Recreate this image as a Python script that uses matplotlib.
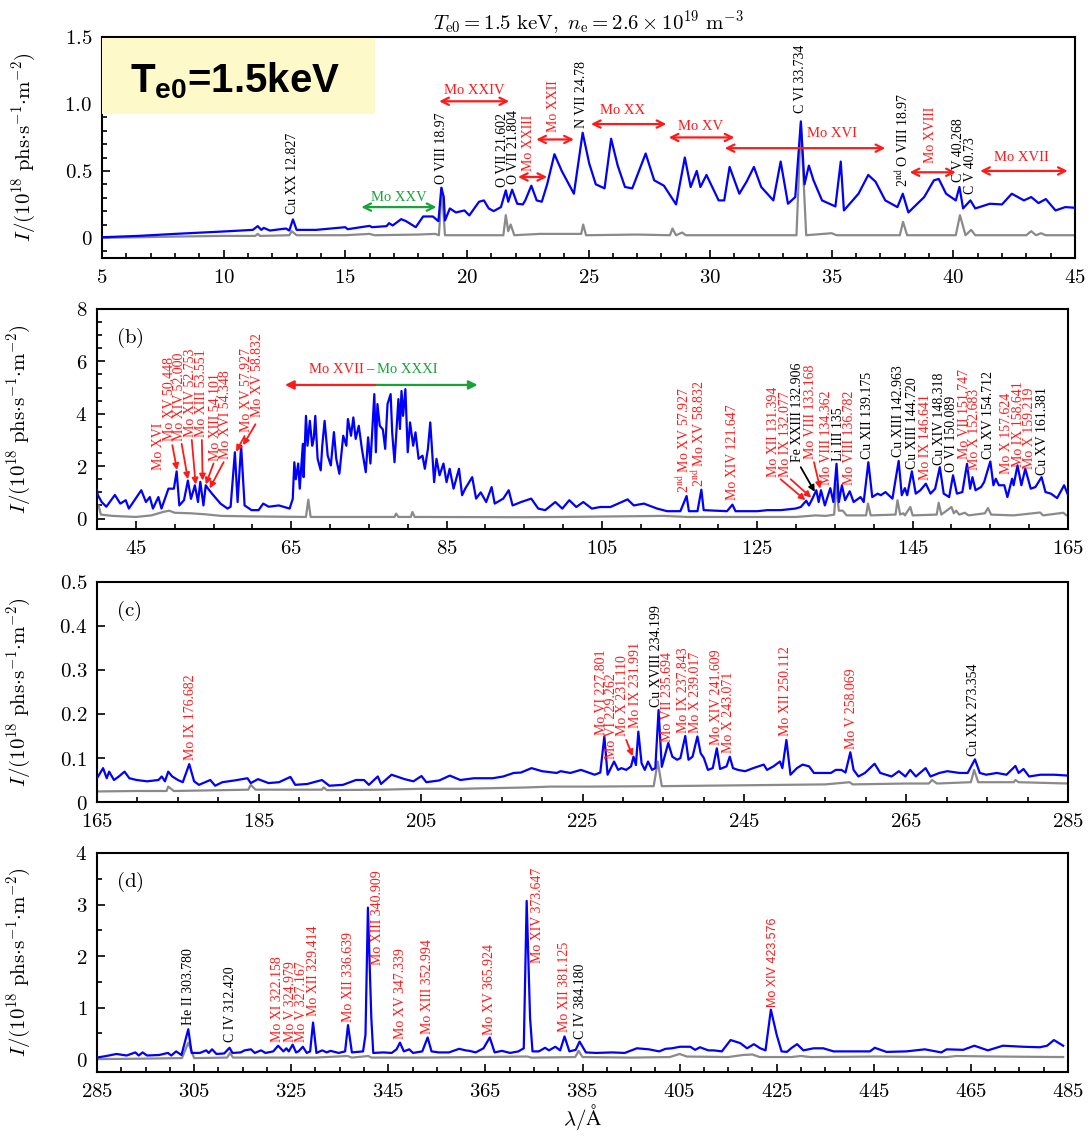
import matplotlib
matplotlib.use("Agg")
import matplotlib.pyplot as plt
from matplotlib.ticker import MultipleLocator, FuncFormatter, FixedLocator
from matplotlib.patches import Rectangle

plt.rcParams["mathtext.fontset"] = "cm"
plt.rcParams["font.family"] = ["DejaVu Serif"]
plt.rcParams["mathtext.bf"] = "Liberation Sans:bold"
plt.rcParams["mathtext.rm"] = "Liberation Sans"

RED = "#ff1a1a"
GREEN = "#17a33a"
BLUE = "#0000ff"
GRAY = "#8a8a8a"

# ---------------- spectra: (wavelength [A], intensity [1e18 phs/s/m^2]) ----------------
a_blue = [(5.0, 0.005), (6.5, 0.015), (8.0, 0.03), (10.0, 0.048), (11.2, 0.06), (11.4, 0.088),
          (11.55, 0.06), (11.65, 0.075), (11.9, 0.055), (12.56, 0.07), (12.7, 0.055), (12.85, 0.138),
          (13.0, 0.06), (13.8, 0.06), (15.0, 0.08), (15.1, 0.065), (16.0, 0.09), (16.1, 0.08),
          (16.7, 0.088), (16.8, 0.11), (16.95, 0.093), (17.3, 0.14), (17.5, 0.125), (17.9, 0.08),
          (18.2, 0.16), (18.6, 0.16), (18.83, 0.125), (18.95, 0.375), (19.05, 0.305), (19.1, 0.13),
          (19.3, 0.22), (19.55, 0.19), (19.9, 0.205), (20.1, 0.168), (20.5, 0.27), (20.7, 0.28),
          (20.9, 0.22), (21.1, 0.2), (21.4, 0.23), (21.6, 0.355), (21.7, 0.27), (21.86, 0.36),
          (22.07, 0.255), (22.3, 0.25), (22.4, 0.28), (22.65, 0.39), (22.87, 0.28), (23.08, 0.27),
          (23.3, 0.4), (23.6, 0.625), (23.9, 0.5), (24.4, 0.33), (24.76, 0.785), (25.03, 0.555),
          (25.3, 0.4), (25.66, 0.37), (25.93, 0.74), (26.2, 0.54), (26.5, 0.38), (26.8, 0.37),
          (27.35, 0.63), (27.7, 0.43), (28.1, 0.39), (28.6, 0.25), (28.96, 0.6), (29.2, 0.38),
          (29.45, 0.5), (29.6, 0.38), (29.85, 0.47), (30.35, 0.28), (30.58, 0.28), (30.8, 0.53),
          (31.2, 0.33), (31.5, 0.42), (31.8, 0.53), (32.1, 0.38), (32.6, 0.28), (32.9, 0.57),
          (33.2, 0.255), (33.5, 0.305), (33.73, 0.87), (33.88, 0.4), (34.06, 0.54), (34.25, 0.43),
          (34.6, 0.28), (35.15, 0.235), (35.37, 0.57), (35.5, 0.205), (36.1, 0.33), (36.5, 0.47),
          (36.8, 0.42), (37.2, 0.28), (37.7, 0.23), (37.92, 0.33), (38.15, 0.19), (38.8, 0.305),
          (39.2, 0.43), (39.4, 0.44), (39.7, 0.33), (40.1, 0.28), (40.25, 0.38), (40.4, 0.22),
          (40.7, 0.28), (40.9, 0.22), (41.5, 0.255), (42.0, 0.25), (42.4, 0.33), (42.9, 0.28),
          (43.2, 0.305), (43.5, 0.26), (43.8, 0.29), (44.2, 0.205), (44.6, 0.23), (45.0, 0.225)]

a_gray = [(5.0, 0.0), (8.0, 0.01), (10.0, 0.015), (11.3, 0.015), (11.4, 0.03), (11.5, 0.015),
          (12.7, 0.02), (12.8, 0.05), (13.0, 0.02), (15.0, 0.02), (16.0, 0.03), (16.2, 0.02),
          (18.0, 0.025), (18.7, 0.03), (18.85, 0.02), (18.97, 0.37), (19.1, 0.02), (21.0, 0.02),
          (21.5, 0.02), (21.6, 0.17), (21.7, 0.05), (21.8, 0.1), (21.95, 0.02), (23.0, 0.03),
          (24.7, 0.03), (24.78, 0.1), (24.9, 0.02), (27.0, 0.025), (28.35, 0.02), (28.45, 0.07),
          (28.6, 0.02), (28.85, 0.04), (29.0, 0.02), (33.55, 0.02), (33.73, 0.85), (33.95, 0.02),
          (35.0, 0.035), (35.2, 0.02), (37.8, 0.02), (37.93, 0.12), (38.1, 0.02), (40.1, 0.02),
          (40.27, 0.17), (40.5, 0.02), (40.73, 0.06), (40.9, 0.02), (43.0, 0.02), (43.2, 0.05),
          (43.4, 0.02), (43.6, 0.035), (43.8, 0.02), (45.0, 0.02)]

b_blue = [(40.0, 1.08), (40.1, 0.9), (40.6, 0.63), (41.2, 0.45), (42.3, 0.9), (43.0, 0.57),
          (43.7, 0.7), (44.1, 0.38), (45.7, 1.08), (46.3, 0.63), (46.8, 0.82), (47.2, 0.38),
          (47.9, 0.82), (48.3, 0.38), (49.2, 1.14), (49.9, 1.14), (50.25, 1.8), (50.6, 0.5),
          (51.2, 0.7), (51.7, 1.45), (52.1, 0.75), (52.6, 1.27), (53.0, 0.63), (53.3, 1.4),
          (53.7, 0.5), (54.0, 1.27), (54.3, 1.14), (54.8, 0.95), (55.9, 0.57), (56.8, 0.38),
          (57.2, 0.45), (57.75, 2.53), (58.1, 0.63), (58.55, 2.78), (59.0, 0.5), (59.9, 0.32),
          (60.8, 0.32), (61.4, 0.57), (62.1, 0.45), (63.4, 0.5), (64.8, 0.38), (65.2, 0.75),
          (65.4, 2.15), (65.6, 1.5), (65.9, 2.1), (66.1, 1.14), (66.5, 2.85), (66.6, 1.58),
          (66.9, 3.92), (67.1, 2.78), (67.4, 3.73), (67.7, 2.78), (67.9, 3.04), (68.1, 3.92),
          (68.4, 2.28), (68.8, 1.84), (69.0, 2.78), (69.3, 3.73), (69.7, 2.4), (70.1, 2.03),
          (70.5, 3.3), (70.8, 2.28), (71.2, 1.71), (71.7, 3.16), (72.1, 2.78), (72.3, 3.8),
          (72.7, 3.16), (73.0, 3.86), (73.3, 3.04), (73.7, 3.54), (74.1, 2.66), (74.6, 1.77),
          (74.9, 3.1), (75.2, 2.1), (75.7, 4.75), (75.9, 2.53), (76.1, 4.37), (76.4, 3.54),
          (76.8, 3.4), (77.1, 2.66), (77.4, 4.37), (77.8, 4.75), (78.0, 3.29), (78.3, 2.15),
          (78.8, 4.56), (79.0, 3.42), (79.2, 4.87), (79.4, 3.92), (79.7, 4.94), (80.0, 2.53),
          (80.3, 3.67), (80.7, 2.78), (81.0, 3.29), (81.4, 2.28), (81.9, 2.4), (82.2, 1.9),
          (82.6, 2.66), (82.9, 3.67), (83.1, 2.78), (83.4, 1.39), (83.7, 2.28), (84.1, 1.65),
          (84.6, 2.1), (85.0, 1.39), (85.4, 1.9), (85.9, 1.14), (86.6, 1.9), (87.0, 0.89),
          (87.4, 1.14), (88.3, 1.58), (88.8, 0.76), (89.4, 1.0), (90.1, 0.63), (90.8, 1.2),
          (91.2, 0.57), (92.3, 0.76), (93.0, 1.08), (93.5, 0.5), (94.6, 0.63), (95.9, 0.76),
          (96.8, 0.38), (97.7, 0.32), (99.0, 0.63), (99.9, 0.38), (100.8, 0.7), (101.7, 0.44),
          (102.6, 0.63), (103.7, 0.38), (104.8, 0.44), (106.1, 0.44), (108.3, 0.73), (109.1, 0.5),
          (110.4, 0.57), (112.1, 0.38), (113.4, 0.28), (115.1, 0.28), (115.9, 0.86), (116.2, 0.28),
          (117.3, 0.28), (117.8, 1.1), (118.1, 0.32), (121.1, 0.28), (121.8, 0.53), (122.2, 0.28),
          (125.0, 0.28), (126.3, 0.32), (128.0, 0.32), (129.9, 0.38), (130.6, 0.44), (131.3, 0.68),
          (131.65, 0.5), (132.1, 0.76), (132.6, 1.08), (132.9, 0.63), (133.2, 1.08), (133.7, 0.5),
          (134.4, 1.16), (134.8, 0.63), (135.2, 2.09), (135.5, 0.63), (135.9, 1.27), (136.3, 0.7),
          (136.9, 1.04), (137.4, 0.63), (138.3, 0.82), (138.7, 0.63), (139.3, 2.15), (139.8, 0.82),
          (140.5, 0.95), (140.9, 0.89), (141.5, 1.01), (142.4, 0.76), (143.2, 2.2), (143.6, 0.89),
          (144.0, 1.16), (144.3, 0.89), (144.9, 1.8), (145.4, 0.95), (146.0, 1.08), (146.7, 1.33),
          (147.3, 0.95), (147.9, 1.14), (148.5, 1.96), (149.0, 0.95), (149.7, 0.82), (150.2, 1.65),
          (150.7, 0.95), (151.4, 1.01), (152.0, 2.09), (152.4, 1.14), (152.7, 1.58), (153.1, 1.08),
          (153.8, 1.2), (154.2, 1.39), (155.0, 2.18), (155.4, 1.27), (155.7, 1.52), (156.1, 1.27),
          (156.8, 1.27), (157.2, 0.82), (157.8, 1.52), (158.0, 1.27), (158.5, 2.03), (159.0, 1.27),
          (159.5, 1.9), (160.2, 1.14), (160.8, 1.2), (161.6, 1.58), (162.1, 1.01), (162.8, 0.95),
          (163.6, 0.78), (164.5, 1.27), (165.0, 0.9)]

b_gray = [(40.0, 0.4), (40.2, 0.5), (40.5, 0.15), (42.0, 0.1), (45.0, 0.06), (47.0, 0.12),
          (48.5, 0.25), (49.3, 0.3), (50.0, 0.22), (52.0, 0.2), (54.0, 0.16), (56.0, 0.1),
          (60.0, 0.08), (66.9, 0.06), (67.2, 0.72), (67.5, 0.06), (78.3, 0.06), (78.5, 0.19),
          (78.8, 0.06), (80.4, 0.06), (80.6, 0.25), (80.9, 0.06), (95.0, 0.05), (100.0, 0.06),
          (113.0, 0.1), (116.0, 0.06), (130.0, 0.06), (131.7, 0.1), (132.5, 0.12), (133.8, 0.1),
          (134.9, 0.15), (135.15, 1.3), (135.5, 0.3), (136.0, 0.3), (136.5, 0.12), (139.0, 0.12),
          (139.25, 0.57), (139.6, 0.12), (142.8, 0.15), (143.05, 0.7), (143.4, 0.15), (143.8, 0.2),
          (144.0, 0.12), (144.7, 0.44), (145.0, 0.12), (148.1, 0.15), (148.35, 0.6), (148.7, 0.15),
          (150.0, 0.44), (150.3, 0.2), (150.6, 0.3), (151.0, 0.15), (151.7, 0.22), (152.2, 0.12),
          (154.3, 0.2), (154.7, 0.4), (155.1, 0.15), (158.0, 0.12), (161.4, 0.23), (161.8, 0.12),
          (164.4, 0.22), (164.8, 0.12), (165.0, 0.12)]

c_blue = [(165.0, 0.054), (165.75, 0.077), (166.2, 0.054), (166.5, 0.069), (167.1, 0.05),
          (167.7, 0.058), (168.4, 0.069), (169.0, 0.054), (169.9, 0.05), (171.2, 0.047),
          (172.6, 0.05), (173.0, 0.058), (173.4, 0.047), (173.8, 0.069), (174.3, 0.058),
          (175.0, 0.05), (175.6, 0.045), (176.4, 0.086), (177.0, 0.047), (177.6, 0.039),
          (179.0, 0.05), (179.6, 0.037), (180.5, 0.045), (182.0, 0.049), (183.6, 0.054),
          (184.0, 0.043), (184.9, 0.052), (186.2, 0.043), (187.5, 0.045), (188.9, 0.057),
          (189.5, 0.039), (191.0, 0.041), (192.8, 0.05), (193.7, 0.037), (195.4, 0.039),
          (197.0, 0.05), (198.0, 0.05), (198.6, 0.039), (199.7, 0.058), (200.1, 0.041),
          (201.4, 0.062), (203.0, 0.052), (204.1, 0.047), (205.1, 0.059), (205.7, 0.045),
          (207.3, 0.049), (208.6, 0.06), (209.9, 0.05), (211.6, 0.054), (213.9, 0.054),
          (215.2, 0.058), (216.5, 0.066), (217.4, 0.067), (218.7, 0.077), (220.0, 0.07),
          (221.8, 0.066), (222.3, 0.07), (223.5, 0.066), (224.8, 0.073), (226.5, 0.062),
          (227.2, 0.067), (227.7, 0.149), (228.1, 0.062), (228.9, 0.092), (229.4, 0.073),
          (229.8, 0.077), (230.4, 0.073), (231.0, 0.081), (231.3, 0.103), (231.6, 0.084),
          (231.9, 0.16), (232.3, 0.088), (232.7, 0.073), (233.1, 0.092), (233.6, 0.073),
          (234.0, 0.077), (234.4, 0.209), (234.8, 0.08), (235.6, 0.134), (236.1, 0.103),
          (236.7, 0.096), (237.1, 0.1), (237.7, 0.15), (238.1, 0.096), (238.6, 0.103),
          (239.2, 0.149), (239.6, 0.111), (240.0, 0.1), (240.5, 0.073), (241.1, 0.077),
          (241.6, 0.122), (242.0, 0.075), (242.8, 0.081), (243.2, 0.103), (243.6, 0.077),
          (244.2, 0.073), (245.1, 0.07), (246.1, 0.077), (247.4, 0.085), (247.8, 0.073),
          (248.6, 0.081), (249.4, 0.092), (249.7, 0.077), (250.2, 0.141), (250.7, 0.062),
          (251.5, 0.077), (252.2, 0.085), (253.0, 0.081), (253.6, 0.066), (254.9, 0.066),
          (255.7, 0.066), (256.3, 0.073), (257.0, 0.073), (257.5, 0.067), (258.1, 0.113),
          (258.5, 0.073), (259.1, 0.058), (259.9, 0.066), (261.1, 0.087), (261.8, 0.066),
          (263.2, 0.058), (264.1, 0.07), (264.9, 0.058), (265.5, 0.073), (266.2, 0.058),
          (267.4, 0.077), (268.0, 0.058), (269.1, 0.066), (270.1, 0.07), (271.6, 0.066),
          (272.6, 0.066), (273.5, 0.097), (274.1, 0.066), (274.9, 0.062), (276.2, 0.066),
          (277.4, 0.062), (278.5, 0.082), (278.9, 0.066), (279.5, 0.075), (280.2, 0.058),
          (281.6, 0.062), (283.3, 0.062), (285.0, 0.06)]

c_gray = [(165.0, 0.024), (170.0, 0.025), (173.6, 0.025), (173.8, 0.035), (174.5, 0.025),
          (183.7, 0.028), (184.0, 0.039), (184.6, 0.028), (192.8, 0.028), (193.0, 0.033),
          (193.4, 0.027), (200.0, 0.028), (205.0, 0.03), (210.0, 0.03), (218.0, 0.033),
          (221.0, 0.035), (226.0, 0.035), (233.8, 0.036), (234.3, 0.092), (234.8, 0.036),
          (245.0, 0.038), (255.0, 0.04), (258.0, 0.045), (258.4, 0.04), (265.0, 0.042),
          (267.8, 0.042), (268.2, 0.05), (268.8, 0.042), (273.0, 0.045), (273.4, 0.073),
          (273.9, 0.045), (278.3, 0.045), (278.5, 0.05), (278.9, 0.045), (285.0, 0.042)]

d_blue = [(285.0, 0.03), (286.9, 0.06), (289.0, 0.1), (291.1, 0.07), (292.9, 0.13), (293.6, 0.07),
          (294.4, 0.13), (295.3, 0.07), (297.8, 0.08), (299.6, 0.12), (300.3, 0.07), (301.3, 0.15),
          (302.4, 0.08), (303.8, 0.58), (304.5, 0.12), (306.2, 0.12), (307.5, 0.17), (308.0, 0.12),
          (308.7, 0.19), (309.6, 0.1), (311.2, 0.11), (312.3, 0.22), (312.9, 0.12), (314.6, 0.13),
          (315.4, 0.17), (316.7, 0.19), (317.5, 0.12), (318.8, 0.17), (319.7, 0.12), (321.3, 0.15),
          (322.3, 0.26), (323.4, 0.15), (324.0, 0.21), (324.5, 0.15), (325.3, 0.28), (326.0, 0.13),
          (326.5, 0.15), (327.4, 0.24), (328.2, 0.12), (328.9, 0.15), (329.5, 0.71), (330.2, 0.12),
          (331.4, 0.17), (332.3, 0.13), (333.1, 0.16), (334.8, 0.12), (336.1, 0.15), (336.7, 0.66),
          (337.5, 0.13), (339.8, 0.15), (340.3, 0.47), (340.8, 2.94), (341.5, 0.8), (341.9, 0.12),
          (344.0, 0.13), (345.7, 0.12), (346.7, 0.19), (347.4, 0.32), (348.2, 0.15), (349.3, 0.19),
          (350.1, 0.12), (352.0, 0.15), (353.1, 0.42), (353.9, 0.15), (355.4, 0.13), (357.5, 0.13),
          (359.6, 0.2), (360.9, 0.17), (361.7, 0.16), (363.0, 0.13), (364.6, 0.21), (365.9, 0.42),
          (366.9, 0.13), (368.4, 0.16), (370.1, 0.12), (371.8, 0.15), (372.9, 0.21), (373.5, 3.07),
          (374.2, 0.8), (374.7, 0.15), (376.0, 0.15), (377.3, 0.22), (378.1, 0.17), (379.4, 0.24),
          (380.4, 0.17), (381.3, 0.44), (382.3, 0.15), (383.6, 0.18), (384.4, 0.34), (385.7, 0.13),
          (387.8, 0.12), (391.1, 0.13), (393.7, 0.12), (396.2, 0.21), (398.7, 0.19), (400.8, 0.15),
          (402.1, 0.2), (403.4, 0.21), (405.1, 0.24), (407.2, 0.24), (408.2, 0.18), (409.2, 0.23),
          (410.9, 0.17), (412.0, 0.17), (413.7, 0.15), (415.5, 0.37), (417.5, 0.31), (418.9, 0.21),
          (420.3, 0.29), (421.6, 0.21), (422.7, 0.17), (423.8, 0.96), (425.0, 0.47), (426.0, 0.15),
          (427.1, 0.14), (428.1, 0.22), (429.2, 0.29), (430.5, 0.17), (432.6, 0.21), (434.6, 0.21),
          (436.7, 0.15), (440.8, 0.15), (444.2, 0.15), (445.2, 0.22), (447.6, 0.14), (451.7, 0.15),
          (455.5, 0.19), (458.9, 0.13), (460.0, 0.19), (463.4, 0.18), (465.7, 0.26), (468.5, 0.17),
          (471.6, 0.26), (475.7, 0.24), (479.2, 0.23), (480.7, 0.26), (482.1, 0.37), (484.0, 0.26)]

d_gray = [(285.0, 0.0), (295.0, 0.01), (302.5, 0.02), (303.8, 0.32), (305.0, 0.02), (311.8, 0.03),
          (312.4, 0.12), (313.0, 0.03), (330.0, 0.03), (336.6, 0.06), (337.5, 0.03), (340.9, 0.06),
          (341.5, 0.03), (352.0, 0.03), (373.6, 0.05), (374.5, 0.03), (383.5, 0.04), (384.2, 0.16),
          (385.0, 0.04), (395.0, 0.03), (403.0, 0.04), (405.0, 0.1), (406.5, 0.05), (415.0, 0.04),
          (418.0, 0.08), (420.0, 0.09), (421.5, 0.04), (428.0, 0.04), (430.0, 0.06), (432.0, 0.04),
          (445.0, 0.05), (460.0, 0.04), (462.0, 0.06), (470.0, 0.05), (484.0, 0.04)]

# ---------------- line identifications: (x, bottom of text, text, colour) ----------------
a_lines = [(12.83, 0.18, "Cu XX 12.827", "k"), (18.97, 0.40, "O VIII 18.97", "k"),
           (21.45, 0.38, "O VII 21.602", "k"), (21.9, 0.40, "O VII 21.804", "k"),
           (22.55, 0.50, "Mo XXIII", RED), (23.55, 0.79, "Mo XXII", RED),
           (24.72, 0.82, "N VII 24.78", "k"), (33.7, 0.93, "C VI 33.734", "k"),
           (37.9, 0.38, r"2$^{\mathrm{nd}}$ O VIII 18.97", "k"), (39.05, 0.56, "Mo XVIII", RED),
           (40.2, 0.42, "C V 40.268", "k"), (40.7, 0.33, "C V 40.73", "k")]

# ion-band arrows: (start, end, height, colour, label, label x, label y)
a_bands = [(15.66, 18.75, 0.23, GREEN, "Mo XXV", 17.2, 0.305),
           (18.86, 21.74, 1.02, RED, "Mo XXIV", 20.3, 1.1),
           (22.1, 23.3, 0.455, RED, None, 0, 0),
           (22.85, 24.4, 0.735, RED, None, 0, 0),
           (25.1, 28.2, 0.85, RED, "Mo XX", 26.4, 0.95),
           (28.3, 31.0, 0.75, RED, "Mo XV", 29.6, 0.835),
           (30.6, 37.2, 0.67, RED, "Mo XVI", 35.0, 0.78),
           (38.2, 40.1, 0.49, RED, None, 0, 0),
           (41.1, 44.7, 0.50, RED, "Mo XVII", 42.8, 0.6)]

b_lines = [(47.9, 1.85, "Mo XVI", RED), (49.3, 2.95, "Mo XV 50.448", RED),
           (50.6, 2.95, "Mo XIV 52.000", RED), (52.0, 3.1, "Mo XIV 52.753", RED),
           (53.4, 3.1, "Mo XIII 53.551", RED), (55.2, 2.2, "Mo XIII 54.101", RED),
           (56.6, 2.28, "Mo XVI 54.348", RED), (59.2, 3.3, "Mo XV 57.927", RED),
           (60.7, 3.86, "Mo XV 58.832", RED),
           (115.5, 0.99, r"2$^{\mathrm{nd}}$ Mo XV 57.927", RED),
           (117.5, 1.2, r"2$^{\mathrm{nd}}$ Mo XV 58.832", RED),
           (121.8, 0.7, "Mo XIV 121.647", RED), (127.1, 1.58, "Mo XII 131.394", RED),
           (128.6, 1.58, "Mo IX 132.077", RED), (130.2, 2.15, "Fe XXIII 132.906", "k"),
           (131.9, 2.28, "Mo VIII 133.168", RED), (133.9, 1.27, "Mo VIII 134.362", RED),
           (135.4, 2.2, "Li III 135", "k"), (136.9, 1.27, "Mo VIII 136.782", RED),
           (139.2, 2.28, "Cu XII 139.175", "k"), (143.2, 2.34, "Cu XIII 142.963", "k"),
           (145.0, 1.9, "Cu XIII 144.720", "k"), (146.7, 1.46, "Mo IX 146.641", RED),
           (148.4, 2.03, "Cu XIV 148.318", "k"), (150.0, 1.77, "O VI 150.089", "k"),
           (151.7, 2.28, "Mo VII 151.747", RED), (152.9, 1.84, "Mo X 152.683", RED),
           (154.8, 2.28, "Cu XV 154.712", "k"), (157.1, 1.71, "Mo X 157.624", RED),
           (158.6, 1.96, "Mo IX 158.641", RED), (160.0, 1.9, "Mo X 159.219", RED),
           (161.7, 1.65, "Cu XV 161.381", "k")]

# pointer arrows: (from x, from y, to x, to y, colour)
b_pointers = [(49.7, 2.8, 50.3, 1.85, RED), (50.9, 2.85, 51.7, 1.5, RED),
              (52.2, 3.0, 52.7, 1.3, RED), (53.5, 3.0, 53.6, 1.45, RED),
              (55.0, 2.1, 54.0, 1.3, RED), (56.3, 2.15, 54.5, 1.15, RED),
              (59.0, 3.15, 57.9, 2.55, RED), (60.4, 3.6, 58.8, 2.8, RED),
              (128.0, 1.5, 131.2, 0.7, RED), (129.3, 1.5, 131.95, 0.8, RED),
              (130.6, 1.96, 132.4, 1.02, "k"), (132.3, 2.15, 133.1, 1.14, RED)]
b_band = (64.2, 76.0, 89.0, 5.1)

c_lines = [(176.5, 0.096, "Mo IX 176.682", RED), (227.3, 0.153, "Mo VI 227.801", RED),
           (228.6, 0.097, "Mo VI 229.262", RED), (229.9, 0.149, "Mo X 231.110", RED),
           (231.6, 0.168, "Mo IX 231.991", RED), (234.2, 0.217, "Cu XVIII 234.199", "k"),
           (235.5, 0.137, "Mo VII 235.694", RED), (237.5, 0.156, "Mo IX 237.843", RED),
           (239.0, 0.156, "Mo X 239.017", RED), (241.6, 0.13, "Mo XIV 241.609", RED),
           (243.05, 0.111, "Mo X 243.071", RED), (250.1, 0.15, "Mo XII 250.112", RED),
           (258.2, 0.12, "Mo V 258.069", RED), (273.35, 0.105, "Cu XIX 273.354", "k")]
c_pointers = [(230.4, 0.141, 231.2, 0.104, RED)]

d_lines = [(303.8, 0.66, "He II 303.780", "k"), (312.5, 0.33, "C IV 312.420", "k"),
           (322.2, 0.33, "Mo XI 322.158", RED), (324.9, 0.33, "Mo V 324.979", RED),
           (327.2, 0.33, "Mo V 327.167", RED), (329.6, 0.84, "Mo XII 329.414", RED),
           (336.7, 0.72, "Mo XII 336.639", RED), (342.8, 1.82, "Mo XIII 340.909", RED),
           (347.6, 0.39, "Mo XV 347.339", RED), (353.0, 0.48, "Mo XIII 352.994", RED),
           (365.9, 0.47, "Mo XV 365.924", RED), (375.8, 1.87, "Mo XIV 373.647", RED),
           (381.3, 0.53, "Mo XII 381.125", RED), (384.6, 0.40, "C IV 384.180", "k")]
d_sans_lines = [(424.2, 1.01, "Mo XIV 423.576", RED)]

# ---------------- figure layout ----------------
W, H = 1091, 1137
fig = plt.figure(figsize=(W / 100, H / 100), dpi=100)


def frame(l, r, t, b):
    return [l / W, 1 - b / H, (r - l) / W, (b - t) / H]


LBL = dict(family="Liberation Serif", fontsize=10, rotation=90, ha="center", va="bottom",
           math_fontfamily="stix")


def math_fmt(decimals=None):
    def f(v, _):
        if abs(v) < 1e-9:
            return r"$0$"
        if decimals is None:
            return r"$%g$" % v
        return r"$%.*f$" % (decimals, v)
    return FuncFormatter(f)


def style(ax, xlim, ylim, xmaj, xmin, ymaj, ymin, ydec=None, xfirst=None):
    ax.set_xlim(*xlim)
    ax.set_ylim(*ylim)
    start = xlim[0] if xfirst is None else xfirst
    ax.xaxis.set_major_locator(FixedLocator(list(range(int(start), int(xlim[1]) + 1, xmaj))))
    ax.xaxis.set_minor_locator(MultipleLocator(xmin))
    ax.yaxis.set_major_locator(MultipleLocator(ymaj))
    if ymin:
        ax.yaxis.set_minor_locator(MultipleLocator(ymin))
    ax.xaxis.set_major_formatter(math_fmt())
    ax.yaxis.set_major_formatter(math_fmt(ydec))
    ax.tick_params(which="both", direction="in", top=False, right=False, labelsize=15,
                   width=1.2, pad=7)
    ax.tick_params(which="major", length=6)
    ax.tick_params(which="minor", length=3.5)
    for s in ax.spines.values():
        s.set_linewidth(1.5)
    ax.set_ylabel(r"$I/(10^{18}\ \mathrm{phs{\cdot}s^{-1}{\cdot}m^{-2}})$", fontsize=15)
    ax.yaxis.set_label_coords(-0.066, 0.5)


def spectra(ax, blue, gray):
    ax.plot([p[0] for p in gray], [p[1] for p in gray], color=GRAY, lw=1.6, zorder=2)
    ax.plot([p[0] for p in blue], [p[1] for p in blue], color=BLUE, lw=1.6, zorder=3)


def labels(ax, items, **kw):
    opts = dict(LBL)
    opts.update(kw)
    for x, y, t, c in items:
        ax.text(x, y, t, color=c, **opts)


def pointers(ax, items):
    for x1, y1, x2, y2, c in items:
        ax.annotate("", xy=(x2, y2), xytext=(x1, y1),
                    arrowprops=dict(arrowstyle="-|>", color=c, lw=1.3, mutation_scale=9,
                                    shrinkA=0, shrinkB=0))


def band(ax, x1, x2, y, c, style_="<->"):
    ax.annotate("", xy=(x2, y), xytext=(x1, y),
                arrowprops=dict(arrowstyle=style_, color=c, lw=1.6, mutation_scale=13,
                                shrinkA=0, shrinkB=0))


BAND_TXT = dict(family="Liberation Serif", fontsize=10.5, va="center")

# ---- (a) ----
ax_a = fig.add_axes(frame(102, 1075, 37, 258))
spectra(ax_a, a_blue, a_gray)
style(ax_a, (5, 45), (-0.15, 1.5), 5, 1, 0.5, 0.1, ydec=1)
labels(ax_a, a_lines)
for x1, x2, y, c, t, tx, ty in a_bands:
    band(ax_a, x1, x2, y, c)
    if t:
        ax_a.text(tx, ty, t, color=c, ha="center", **BAND_TXT)
ax_a.set_title(r"$T_{\mathrm{e0}} = 1.5\ \mathrm{keV},\ n_{\mathrm{e}} = 2.6\times10^{19}\ \mathrm{m^{-3}}$",
               fontsize=15, pad=5)

# ---- (b) ----
ax_b = fig.add_axes(frame(97, 1068, 309, 529))
spectra(ax_b, b_blue, b_gray)
style(ax_b, (40, 165), (-0.4, 8), 20, 5, 2, 0.5, xfirst=45)
labels(ax_b, b_lines)
pointers(ax_b, b_pointers)
x1, xm, x2, yb = b_band
band(ax_b, xm, x1, yb, RED, "-|>")
band(ax_b, xm, x2, yb, GREEN, "-|>")
ax_b.text(74.3, yb + 0.6, "Mo XVII", color=RED, ha="right", **BAND_TXT)
ax_b.text(75.15, yb + 0.6, "\u2013", color=RED, ha="center", **BAND_TXT)
ax_b.text(76.0, yb + 0.6, "Mo XXXI", color=GREEN, ha="left", **BAND_TXT)
ax_b.text(0.02, 0.87, r"$(\mathrm{b})$", transform=ax_b.transAxes, fontsize=15, va="center")

# ---- (c) ----
ax_c = fig.add_axes(frame(97, 1068, 582, 802))
spectra(ax_c, c_blue, c_gray)
style(ax_c, (165, 285), (0, 0.5), 20, 5, 0.1, None, ydec=1)
labels(ax_c, c_lines)
pointers(ax_c, c_pointers)
ax_c.text(0.02, 0.87, r"$(\mathrm{c})$", transform=ax_c.transAxes, fontsize=15, va="center")

# ---- (d) ----
ax_d = fig.add_axes(frame(97, 1068, 853, 1072))
spectra(ax_d, d_blue, d_gray)
style(ax_d, (285, 485), (-0.25, 4), 20, 5, 1, 0.5)
labels(ax_d, d_lines)
labels(ax_d, d_sans_lines, family="Liberation Sans", fontsize=9)
ax_d.text(0.02, 0.87, r"$(\mathrm{d})$", transform=ax_d.transAxes, fontsize=15, va="center")
ax_d.set_xlabel(r"$\lambda/\mathrm{\AA}$", fontsize=15, labelpad=1)

# ---- temperature badge ----
fig.patches.append(Rectangle((102 / W, 1 - 114 / H), (375 - 102) / W, (114 - 38) / H,
                             transform=fig.transFigure, facecolor="#fdf9c8",
                             edgecolor="none", zorder=5))
fig.text(130 / W, 1 - 92 / H, r"T$_{\mathbf{e0}}$=1.5keV", fontsize=29,
         family="Liberation Sans", weight="bold", math_fontfamily="custom",
         va="baseline", ha="left", zorder=6)

fig.savefig("out.png", dpi=100)
